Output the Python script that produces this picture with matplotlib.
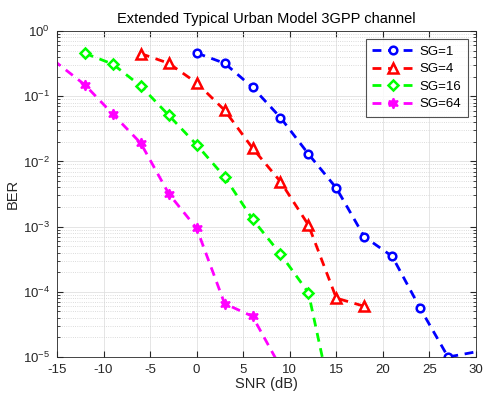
import matplotlib
matplotlib.use("Agg")
import matplotlib.pyplot as plt
from matplotlib.ticker import LogLocator, MultipleLocator, NullFormatter

plt.rcParams['font.family'] = ['Liberation Sans', 'DejaVu Sans']
plt.rcParams['mathtext.fontset'] = 'custom'
plt.rcParams['mathtext.rm'] = 'Liberation Sans'
plt.rcParams['mathtext.it'] = 'Liberation Sans:italic'
plt.rcParams['axes.unicode_minus'] = False

# Data
snr_sg1 = [0, 3, 6, 9, 12, 15, 18, 21, 24, 27, 30]
ber_sg1 = [0.46, 0.32, 0.137, 0.047, 0.013, 0.0039, 7.0e-4, 3.5e-4, 5.6e-5, 1.0e-5, 1.2e-5]

snr_sg4 = [-6, -3, 0, 3, 6, 9, 12, 15, 18]
ber_sg4 = [0.45, 0.32, 0.16, 0.061, 0.016, 0.0049, 0.00106, 8.0e-5, 6.0e-5]

snr_sg16 = [-12, -9, -6, -3, 0, 3, 6, 9, 12, 15]
ber_sg16 = [0.455, 0.31, 0.143, 0.051, 0.018, 0.0058, 0.0013, 3.8e-4, 9.7e-5, 1.0e-6]

snr_sg64 = [-18, -12, -9, -6, -3, 0, 3, 6, 9]
ber_sg64 = [0.7, 0.149, 0.053, 0.019, 0.0032, 9.4e-4, 6.6e-5, 4.2e-5, 7.0e-6]

labels = ['SG=1', 'SG=4', 'SG=16', 'SG=64']
title = 'Extended Typical Urban Model 3GPP channel'

fig = plt.figure(figsize=(4.83, 4.01), dpi=100)
ax = fig.add_axes([0.118, 0.1097, 0.8675, 0.813])

dash = (3.2, 2.4)
ax.semilogy(snr_sg1, ber_sg1, color=(0, 0, 1), ls='--', dashes=dash, lw=2,
            marker='o', ms=5.5, mfc='white', mec=(0, 0, 1), mew=1.8,
            markevery=list(range(len(snr_sg1) - 1)), label=labels[0])
ax.semilogy(snr_sg4, ber_sg4, color=(1, 0, 0), ls='--', dashes=dash, lw=2,
            marker='^', ms=6.5, mfc='white', mec=(1, 0, 0), mew=1.8, label=labels[1])
ax.semilogy(snr_sg16, ber_sg16, color=(0, 1, 0), ls='--', dashes=dash, lw=2,
            marker='D', ms=4.8, mfc='white', mec=(0, 1, 0), mew=1.8, label=labels[2])
ax.semilogy(snr_sg64, ber_sg64, color=(1, 0, 1), ls='--', dashes=dash, lw=2,
            marker=(6, 1, 0), ms=7.5, mfc=(1, 0, 1), mec=(1, 0, 1), mew=1.2, label=labels[3])

ax.set_xlim(-15, 30)
ax.set_ylim(1e-5, 1)
ax.xaxis.set_major_locator(MultipleLocator(5))
ax.yaxis.set_major_locator(LogLocator(base=10, numticks=10))
ax.yaxis.set_minor_locator(LogLocator(base=10, subs=range(2, 10), numticks=20))
ax.yaxis.set_minor_formatter(NullFormatter())

ax.grid(True, which='major', color='#e0e0e0', lw=0.6, ls='-')
ax.grid(True, which='minor', axis='y', color='#d0d0d0', lw=0.6, ls=':')
ax.set_axisbelow(True)

ax.tick_params(which='both', direction='in', top=True, right=True, colors='#262626',
               labelsize=9.5, labelcolor='#262626')
ax.tick_params(which='major', length=4, pad=5)
ax.tick_params(which='minor', length=2)
for s in ax.spines.values():
    s.set_color('#262626')
    s.set_linewidth(0.6)

ax.set_xlabel('SNR (dB)', fontsize=10.5, color='#262626', labelpad=1)
ax.set_ylabel('BER', fontsize=10.5, color='#262626', labelpad=2)
ax.set_title(title, fontsize=10.5, color='black', pad=6)

leg = ax.legend(loc='upper right', fontsize=9.5, frameon=True, fancybox=False,
                edgecolor='#262626', handlelength=3.2, borderpad=0.5,
                labelspacing=0.4, handletextpad=0.4, borderaxespad=0.6)
leg.get_frame().set_linewidth(0.8)

fig.savefig('out.png', dpi=100)
